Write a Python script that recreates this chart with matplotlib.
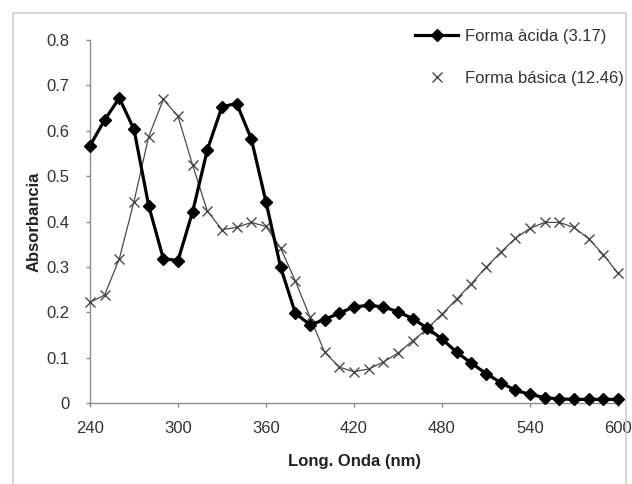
import matplotlib
matplotlib.use("Agg")
import matplotlib.pyplot as plt
from matplotlib.lines import Line2D
from matplotlib.patches import Rectangle

# wavelength (nm) and absorbance
wavelength = [240, 250, 260, 270, 280, 290, 300, 310, 320, 330, 340, 350, 360,
              370, 380, 390, 400, 410, 420, 430, 440, 450, 460, 470, 480, 490,
              500, 510, 520, 530, 540, 550, 560, 570, 580, 590, 600]
acid_form = [0.567, 0.624, 0.672, 0.603, 0.435, 0.318, 0.314, 0.422, 0.558, 0.653,
             0.660, 0.582, 0.443, 0.299, 0.198, 0.172, 0.184, 0.198, 0.212, 0.215,
             0.212, 0.201, 0.186, 0.165, 0.141, 0.112, 0.088, 0.065, 0.045, 0.028,
             0.019, 0.012, 0.009, 0.008, 0.008, 0.008, 0.008]
basic_form = [0.222, 0.238, 0.318, 0.444, 0.587, 0.669, 0.632, 0.524, 0.423, 0.382,
              0.387, 0.398, 0.389, 0.341, 0.269, 0.189, 0.112, 0.079, 0.069, 0.075,
              0.090, 0.110, 0.137, 0.164, 0.196, 0.229, 0.263, 0.299, 0.332, 0.363,
              0.385, 0.398, 0.398, 0.387, 0.362, 0.327, 0.286]
x_ticks = [240, 300, 360, 420, 480, 540, 600]
y_ticks = [0, 0.1, 0.2, 0.3, 0.4, 0.5, 0.6, 0.7, 0.8]
y_tick_labels = ["0", "0.1", "0.2", "0.3", "0.4", "0.5", "0.6", "0.7", "0.8"]
acid_label = "Forma àcida (3.17)"
basic_label = "Forma básica (12.46)"

plt.rcParams['font.family'] = ['Liberation Sans', 'DejaVu Sans']
axis_grey = '#8c8c8c'
text_grey = '#333333'

fig = plt.figure(figsize=(6.32, 4.84), dpi=100)
W, H = 632, 484
ax = fig.add_axes([90 / W, 1 - 403 / H, (618 - 90) / W, (403 - 40) / H])

# outer chart frame (Excel style)
fig.patches.append(Rectangle((13 / W, -0.05), (626 - 13) / W, 1 - 13 / H + 0.05,
                             transform=fig.transFigure, fill=False,
                             edgecolor='#cfcfcf', lw=1.2))

ax.plot(wavelength, basic_form, color='#4a4a4a', lw=0.9, marker='x', ms=7.5,
        mew=1.0, clip_on=False, zorder=3)
ax.plot(wavelength, acid_form, color='black', lw=2.3, marker='D', ms=6.5,
        clip_on=False, zorder=4)

ax.set_xlim(240, 600)
ax.set_ylim(0, 0.8)
ax.set_xticks(x_ticks)
ax.set_yticks(y_ticks)
ax.set_yticklabels(y_tick_labels)

for side in ['top', 'right']:
    ax.spines[side].set_visible(False)
for side in ['left', 'bottom']:
    ax.spines[side].set_color(axis_grey)
    ax.spines[side].set_linewidth(1.0)
ax.tick_params(axis='both', colors=axis_grey, labelcolor=text_grey,
               labelsize=12, length=3, width=1.0, direction='out')
ax.tick_params(axis='x', pad=10)
ax.tick_params(axis='y', pad=12)

ax.set_xlabel("Long. Onda (nm)", fontsize=12, fontweight='bold',
              color='#222222', labelpad=13)
ax.set_ylabel("Absorbancia", fontsize=12, fontweight='bold',
              color='#222222', labelpad=3)

# legend: acid with line + marker, basic with marker only
handles = [Line2D([], [], color='black', lw=2.3, marker='D', ms=6.5),
           Line2D([], [], color='#4a4a4a', lw=0, marker='x', ms=7.5, mew=1.0)]
leg = fig.legend(handles, [acid_label, basic_label], loc='upper left',
                 bbox_to_anchor=(415 / W, 1 - 29 / H), frameon=False,
                 fontsize=12, handlelength=2.6, handletextpad=0.4,
                 labelspacing=1.6, borderpad=0, borderaxespad=0)
for t in leg.get_texts():
    t.set_color(text_grey)

fig.savefig("out.png", dpi=100, facecolor='white')
